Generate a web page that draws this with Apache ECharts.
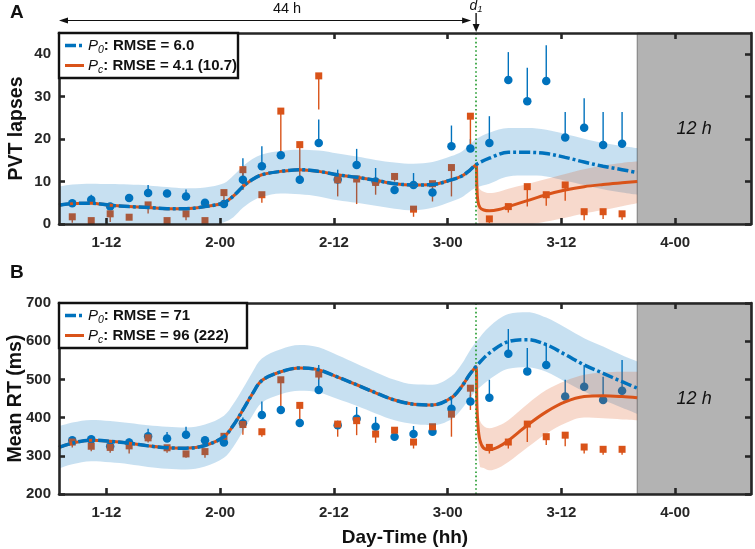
<!DOCTYPE html>
<html><head><meta charset="utf-8">
<script src="https://cdn.jsdelivr.net/npm/echarts@6/dist/echarts.min.js"></script>
<style>html,body{margin:0;padding:0;background:#fff}#c{width:755px;height:549px}</style>
</head><body><div id="c"></div>
<script>
// ---------- DATA ----------
// x in hours from day-1 00:00 (1-12 = 12, 2-00 = 24, ...)
const xTickValues = [12, 24, 36, 48, 60, 72];
const xTickLabels = ['1-12', '2-00', '2-12', '3-00', '3-12', '4-00'];
const pvtTicks = [0, 10, 20, 30, 40];
const rtTicks = [200, 300, 400, 500, 600, 700];
const d1Time = 51;
const blackoutStart = 68, blackoutEnd = 80;

// observed samples
const sampleT = [8.4, 10.4, 12.4, 14.4, 16.4, 18.4, 20.4, 22.4, 24.4, 26.4, 28.4, 30.4, 32.4, 34.4, 36.4,
                 38.4, 40.4, 42.4, 44.4, 46.4, 48.4, 50.4, 52.4, 54.4, 56.4, 58.4, 60.4, 62.4, 64.4, 66.4];
const pvtP0    = [4.9, 5.7, 4.1, 6.1, 7.3, 7.2, 6.5, 5.0, 4.7, 10.4, 13.6, 16.2, 10.4, 19.1, 10.5,
                  13.9, 10.0, 8.0, 9.2, 7.4, 18.3, 17.8, 19.1, 33.9, 28.9, 33.7, 20.4, 22.7, 18.6, 18.9];
const pvtP0Err = [5.8, 6.9, 4.8, 6.5, 9.2, 7.9, 8.1, 5.4, 5.2, 15.5, 18.3, 17.0, 11.5, 24.6, 12.8,
                  17.7, 13.2, 8.6, 12.0, 8.0, 23.2, 20.0, 25.4, 40.5, 36.8, 42.1, 26.4, 29.6, 26.4, 26.4];
const pvtPc    = [1.7, 0.8, 2.4, 1.6, 4.5, 0.8, 2.4, 0.8, 7.4, 12.8, 6.9, 26.6, 18.7, 34.9, 10.4,
                  10.6, 9.8, 11.2, 3.5, 9.5, 13.3, 25.4, 1.2, 4.1, 8.8, 6.9, 9.2, 2.9, 2.9, 2.4];
const pvtPcErr = [0.3, 0.3, 0.5, 1.0, 2.5, 0.3, 0.9, 0.3, 5.3, 8.0, 5.0, 16.3, 10.4, 27.0, 6.5,
                  4.7, 6.9, 10.0, 1.7, 5.3, 6.5, 17.9, 0.2, 2.7, 4.1, 4.3, 5.5, 0.9, 1.2, 1.0];
const rtP0     = [341, 343, 325, 335, 351, 345, 355, 341, 335, 385, 407, 420, 386, 472, 380,
                  397, 376, 350, 357, 363, 423, 442, 452, 567, 521, 538, 455, 481, 446, 470];
const rtP0Err  = [348, 352, 330, 345, 371, 362, 376, 345, 340, 400, 442, 425, 392, 538, 392,
                  428, 402, 355, 378, 368, 455, 460, 499, 632, 582, 595, 499, 538, 507, 551];
const rtPc     = [336, 325, 322, 326, 347, 321, 305, 311, 351, 382, 363, 499, 432, 514, 383,
                  392, 357, 367, 336, 376, 409, 477, 322, 336, 383, 350, 354, 323, 317, 317];
const rtPcErr  = [322, 312, 308, 306, 335, 308, 295, 295, 338, 355, 350, 420, 393, 500, 350,
                  354, 334, 360, 319, 362, 350, 420, 306, 319, 336, 328, 325, 306, 303, 303];

// model curves (P0 over the whole window)
const curveT = [7, 8.4, 10.4, 12.4, 14.4, 16.4, 18.4, 20.4, 22.4, 24.4, 25.4, 26.4, 27.4, 28.4, 30.4, 32.4,
                34.4, 36.4, 38.4, 40.4, 42.4, 44.4, 46.4, 48.4, 49.5, 50.3, 51, 52.4, 54.4, 56.4, 58.4,
                60.4, 62.4, 64.4, 66.4, 68];
const pvtP0Mean = [4.4, 4.8, 4.9, 4.4, 4.1, 3.9, 3.6, 3.6, 4.1, 5.0, 6.6, 8.8, 10.5, 11.6, 12.4, 12.8,
                   12.4, 11.6, 11.0, 10.3, 9.5, 9.2, 9.3, 10.4, 11.3, 12.6, 14.0, 15.5, 16.9, 16.9, 16.6,
                   15.7, 14.6, 13.6, 12.8, 12.1];
const pvtP0Up   = [8.8, 9.3, 9.5, 9.4, 9.3, 9.1, 8.7, 8.4, 8.6, 9.6, 11.4, 13.6, 15.3, 16.4, 17.2, 17.5,
                   17.3, 16.6, 15.9, 15.1, 14.5, 14.2, 14.6, 16.0, 17.1, 18.6, 20.0, 21.5, 22.6, 22.6, 22.2,
                   21.2, 20.1, 19.1, 18.4, 17.9];
const pvtP0Low  = [-0.4, 0.0, 0.2, -0.4, -0.8, -1.2, -1.4, -1.2, -0.8, 0.4, 1.6, 3.8, 5.4, 6.4, 7.2, 7.0,
                   6.5, 5.6, 5.0, 4.3, 3.6, 3.2, 3.8, 5.3, 6.3, 7.6, 8.6, 9.5, 11.2, 11.4, 11.2,
                   10.2, 9.2, 8.2, 7.4, 6.9];
const rtP0Mean  = [322, 333, 341, 338, 333, 326, 321, 320, 327, 350, 380, 420, 462, 497, 520, 530,
                   525, 506, 486, 465, 446, 435, 433, 452, 482, 512, 534, 569, 599, 604, 591,
                   565, 538, 516, 494, 477];
const rtP0Up    = [377, 387, 394, 391, 386, 380, 376, 374, 382, 405, 436, 476, 519, 555, 579, 590,
                   584, 563, 541, 519, 499, 487, 486, 508, 541, 574, 598, 638, 671, 676, 662,
                   636, 608, 586, 563, 547];
const rtP0Low   = [267, 278, 286, 283, 278, 271, 266, 264, 272, 295, 324, 364, 405, 439, 461, 470,
                   466, 449, 431, 411, 393, 383, 380, 396, 423, 450, 470, 500, 528, 532, 520,
                   494, 468, 446, 426, 410];

// Pc model after d1 (identical to P0 before d1)
const pcT = [51, 51.08, 51.18, 51.4, 51.8, 52.4, 53.4, 54.4, 56.4, 58.4, 60.4, 62.4, 64.4, 66.4, 68];
const pvtPcMean = [14.0, 9.0, 5.5, 3.9, 3.3, 3.1, 3.4, 4.1, 5.5, 6.9, 8.0, 8.8, 9.3, 9.7, 10.0];
const pvtPcUp   = [14.0, 11.0, 9.5, 8.2, 7.6, 7.3, 7.6, 8.3, 9.4, 10.6, 11.8, 12.9, 13.8, 14.4, 14.7];
const pvtPcLow  = [14.0, 7.0, 1.5, -0.5, -1.2, -1.6, -1.5, -1.0, -0.2, 0.6, 1.5, 2.5, 3.3, 4.2, 4.9];
const rtPcMean  = [534, 440, 385, 341, 320, 316, 324, 340, 380, 415, 441, 455, 457, 455, 452];
const rtPcUp    = [534, 480, 430, 393, 378, 372, 379, 393, 435, 472, 496, 512, 518, 520, 520];
const rtPcLow   = [534, 400, 335, 272, 268, 262, 269, 284, 322, 358, 385, 400, 398, 395, 393];

// ---------- STYLE ----------
const FONT = '"Liberation Sans", Arial, Helvetica, sans-serif';
const BLUE = '#0072BD', ORANGE = '#D95319', INK = '#262626';
const BLUE_BAND = 'rgba(0,114,189,0.22)', ORANGE_BAND = 'rgba(217,83,25,0.22)';
const DASHDOT = [11, 3, 3, 3];

const chart = echarts.init(document.getElementById('c'), null, {renderer: 'canvas'});

function pairs(t, v) { return t.map((x, i) => [x, v[i]]); }

// band = stacked (lower, upper-lower); value placed first so the stack runs on y
function band(id, gi, t, up, low, color) {
  const base = {type: 'line', xAxisIndex: gi * 2, yAxisIndex: gi * 2, stack: id, stackStrategy: 'all',
    symbol: 'none', smooth: 0.35, silent: true, z: 3, lineStyle: {opacity: 0}, clip: true,
    encode: {x: 1, y: 0}};
  return [
    Object.assign({}, base, {data: t.map((x, i) => [low[i], x])}),
    Object.assign({}, base, {data: t.map((x, i) => [+(up[i] - low[i]).toFixed(3), x]),
      areaStyle: {color: color, opacity: 1}})
  ];
}
function errBars(gi, vals, ends, color) {
  return {type: 'custom', xAxisIndex: gi * 2, yAxisIndex: gi * 2, z: 1, silent: true, clip: true,
    data: sampleT.map((t, i) => [t, vals[i], ends[i]]),
    encode: {x: 0, y: [1, 2]},
    renderItem: function (params, api) {
      const a = api.coord([api.value(0), api.value(1)]);
      const b = api.coord([api.value(0), api.value(2)]);
      return {type: 'line', shape: {x1: a[0], y1: a[1], x2: b[0], y2: b[1]},
        style: {stroke: color, lineWidth: 1.4}};
    }};
}
function markers(gi, vals, symbol, size, color) {
  return {type: 'scatter', xAxisIndex: gi * 2, yAxisIndex: gi * 2, z: 2, silent: true,
    symbol: symbol, symbolSize: size, itemStyle: {color: color, opacity: 1},
    data: pairs(sampleT, vals)};
}
function curves(gi, p0Mean, pcMean) {
  const pre = curveT.map((t, i) => [t, p0Mean[i]]).filter(p => p[0] < d1Time);
  const orangeData = pre.concat(pairs(pcT, pcMean));
  return [
    {type: 'line', xAxisIndex: gi * 2, yAxisIndex: gi * 2, z: 4, silent: true, symbol: 'none',
      smooth: 0.35, data: orangeData, lineStyle: {color: ORANGE, width: 3}},
    {type: 'line', xAxisIndex: gi * 2, yAxisIndex: gi * 2, z: 5, silent: true, symbol: 'none',
      smooth: 0.35, data: pairs(curveT, p0Mean),
      lineStyle: {color: BLUE, width: 3.5, type: DASHDOT, cap: 'butt'}}
  ];
}
function extras(gi) {
  return {type: 'line', xAxisIndex: gi * 2, yAxisIndex: gi * 2, data: [], z: 1, silent: true,
    markArea: {silent: true, itemStyle: {color: '#b3b3b3', borderColor: '#7a7a7a', borderWidth: 1},
      label: {show: true, position: 'inside', formatter: '12 h', fontStyle: 'italic', fontSize: 18,
        fontFamily: FONT, color: '#111'},
      data: [[{xAxis: blackoutStart}, {xAxis: blackoutEnd}]]},
    markLine: {silent: true, symbol: ['none', 'none'], label: {show: false},
      lineStyle: {color: '#1f9a2a', type: [1.6, 2.6], width: 1.6},
      data: [{xAxis: d1Time}]}};
}

const axisLineStyle = {show: true, onZero: false, lineStyle: {color: INK, width: 2.6}};
const tickStyle = {inside: true, length: 6, lineStyle: {color: INK, width: 2.6}};
const labelStyle = {fontFamily: FONT, fontSize: 15, fontWeight: 'bold', color: INK};

function xAxes(gi) {
  return [
    {type: 'value', gridIndex: gi, position: 'bottom', min: 7, max: 80, z: 10,
      axisLine: axisLineStyle, splitLine: {show: false},
      axisTick: Object.assign({customValues: xTickValues}, tickStyle),
      axisLabel: Object.assign({customValues: xTickValues, margin: 11,
        formatter: v => xTickLabels[xTickValues.indexOf(v)] || ''}, labelStyle)},
    {type: 'value', gridIndex: gi, position: 'top', min: 7, max: 80, z: 10,
      axisLine: axisLineStyle, splitLine: {show: false},
      axisTick: Object.assign({customValues: xTickValues}, tickStyle),
      axisLabel: {show: false}}
  ];
}
function yAxes(gi, min, max, ticks) {
  return [
    {type: 'value', gridIndex: gi, position: 'left', min: min, max: max, z: 10,
      axisLine: axisLineStyle, splitLine: {show: false},
      axisTick: Object.assign({customValues: ticks}, tickStyle),
      axisLabel: Object.assign({customValues: ticks, margin: 8}, labelStyle)},
    {type: 'value', gridIndex: gi, position: 'right', min: min, max: max, z: 10,
      axisLine: axisLineStyle, splitLine: {show: false},
      axisTick: Object.assign({customValues: ticks}, tickStyle),
      axisLabel: {show: false}}
  ];
}

const series = [].concat(
  [extras(0), extras(1)],
  [errBars(0, pvtP0, pvtP0Err, BLUE), errBars(0, pvtPc, pvtPcErr, ORANGE),
   errBars(1, rtP0, rtP0Err, BLUE), errBars(1, rtPc, rtPcErr, ORANGE)],
  [markers(0, pvtP0, 'circle', 8.5, BLUE), markers(0, pvtPc, 'rect', 7, ORANGE),
   markers(1, rtP0, 'circle', 8.5, BLUE), markers(1, rtPc, 'rect', 7, ORANGE)],
  band('b0', 0, curveT, pvtP0Up, pvtP0Low, BLUE_BAND),
  band('o0', 0, pcT, pvtPcUp, pvtPcLow, ORANGE_BAND),
  band('b1', 1, curveT, rtP0Up, rtP0Low, BLUE_BAND),
  band('o1', 1, pcT, rtPcUp, rtPcLow, ORANGE_BAND),
  curves(0, pvtP0Mean, pvtPcMean),
  curves(1, rtP0Mean, rtPcMean)
);

chart.setOption({
  animation: false,
  backgroundColor: '#fff',
  grid: [
    {left: 59, right: 4, top: 33, height: 191},
    {left: 59, right: 4, top: 303, height: 191}
  ],
  xAxis: xAxes(0).concat(xAxes(1)),
  yAxis: yAxes(0, 0, 45, pvtTicks).concat(yAxes(1, 200, 700, rtTicks)),
  series: series
});

// ---------- annotations ----------
const pxStart = chart.convertToPixel({xAxisIndex: 0}, 7);
const pxD1 = chart.convertToPixel({xAxisIndex: 0}, d1Time);
const rich = {
  i: {fontFamily: FONT, fontSize: 15, fontStyle: 'italic', fill: '#111', lineHeight: 20},
  s: {fontFamily: FONT, fontSize: 10.5, fontStyle: 'italic', fill: '#111', lineHeight: 13, verticalAlign: 'bottom'},
  b: {fontFamily: FONT, fontSize: 15, fontWeight: 'bold', fill: '#111', lineHeight: 20}
};
function legendBox(x, y, w, h, line1, line2) {
  return [
    {type: 'rect', z: 100, shape: {x: x, y: y, width: w, height: h},
      style: {fill: '#fff', stroke: '#111', lineWidth: 2.4}},
    {type: 'line', z: 101, shape: {x1: x + 6, y1: y + 12.5, x2: x + 26, y2: y + 12.5},
      style: {stroke: BLUE, lineWidth: 3.5, lineDash: DASHDOT}},
    {type: 'line', z: 101, shape: {x1: x + 6, y1: y + 32.5, x2: x + 25, y2: y + 32.5},
      style: {stroke: ORANGE, lineWidth: 3}},
    {type: 'text', z: 101, x: x + 29, y: y + 12.5,
      style: {text: line1, rich: rich, verticalAlign: 'middle', align: 'left'}},
    {type: 'text', z: 101, x: x + 29, y: y + 32.5,
      style: {text: line2, rich: rich, verticalAlign: 'middle', align: 'left'}}
  ];
}
const g = [].concat(
  legendBox(59, 33, 179, 45, '{i|P}{s|0}{b|: RMSE = 6.0}', '{i|P}{s|c}{b|: RMSE = 4.1 (10.7)}'),
  legendBox(59, 303, 188, 45, '{i|P}{s|0}{b|: RMSE = 71}', '{i|P}{s|c}{b|: RMSE = 96 (222)}'),
  [
    {type: 'text', z: 100, x: 10, y: 3, style: {text: 'A', fontFamily: FONT, fontSize: 19, fontWeight: 'bold', fill: '#111'}},
    {type: 'text', z: 100, x: 10, y: 263, style: {text: 'B', fontFamily: FONT, fontSize: 19, fontWeight: 'bold', fill: '#111'}},
    {type: 'text', z: 100, x: 287, y: 9, style: {text: '44 h', fontFamily: FONT, fontSize: 14.5, fill: '#111', align: 'center', verticalAlign: 'middle'}},
    {type: 'line', z: 100, shape: {x1: pxStart + 2, y1: 20.5, x2: pxD1 - 8, y2: 20.5}, style: {stroke: '#111', lineWidth: 1.2}},
    {type: 'polygon', z: 100, shape: {points: [[pxStart, 20.5], [pxStart + 9, 17.5], [pxStart + 9, 23.5]]}, style: {fill: '#111'}},
    {type: 'polygon', z: 100, shape: {points: [[pxD1 - 5, 20.5], [pxD1 - 14, 17.5], [pxD1 - 14, 23.5]]}, style: {fill: '#111'}},
    {type: 'line', z: 100, shape: {x1: pxD1, y1: 13, x2: pxD1, y2: 26}, style: {stroke: '#111', lineWidth: 1.4}},
    {type: 'polygon', z: 100, shape: {points: [[pxD1, 32], [pxD1 - 3.5, 24], [pxD1 + 3.5, 24]]}, style: {fill: '#111'}},
    {type: 'text', z: 100, x: pxD1, y: 6, style: {text: '{i|d}{s|1}', rich: {
      i: {fontFamily: FONT, fontSize: 14, fontStyle: 'italic', fill: '#111', lineHeight: 16},
      s: {fontFamily: FONT, fontSize: 9.5, fontStyle: 'italic', fill: '#111', lineHeight: 11, verticalAlign: 'bottom'}},
      align: 'center', verticalAlign: 'middle'}},
    {type: 'text', z: 100, x: 17, y: 128.5, rotation: Math.PI / 2,
      style: {text: 'PVT lapses', fontFamily: FONT, fontSize: 19.5, fontWeight: 'bold', fill: '#111', align: 'center', verticalAlign: 'middle'}},
    {type: 'text', z: 100, x: 16, y: 398.5, rotation: Math.PI / 2,
      style: {text: 'Mean RT (ms)', fontFamily: FONT, fontSize: 19.5, fontWeight: 'bold', fill: '#111', align: 'center', verticalAlign: 'middle'}},
    {type: 'text', z: 100, x: 405, y: 538,
      style: {text: 'Day-Time (hh)', fontFamily: FONT, fontSize: 19, fontWeight: 'bold', fill: '#111', align: 'center', verticalAlign: 'middle'}}
  ]
);
chart.setOption({graphic: g});
</script>
</body></html>
